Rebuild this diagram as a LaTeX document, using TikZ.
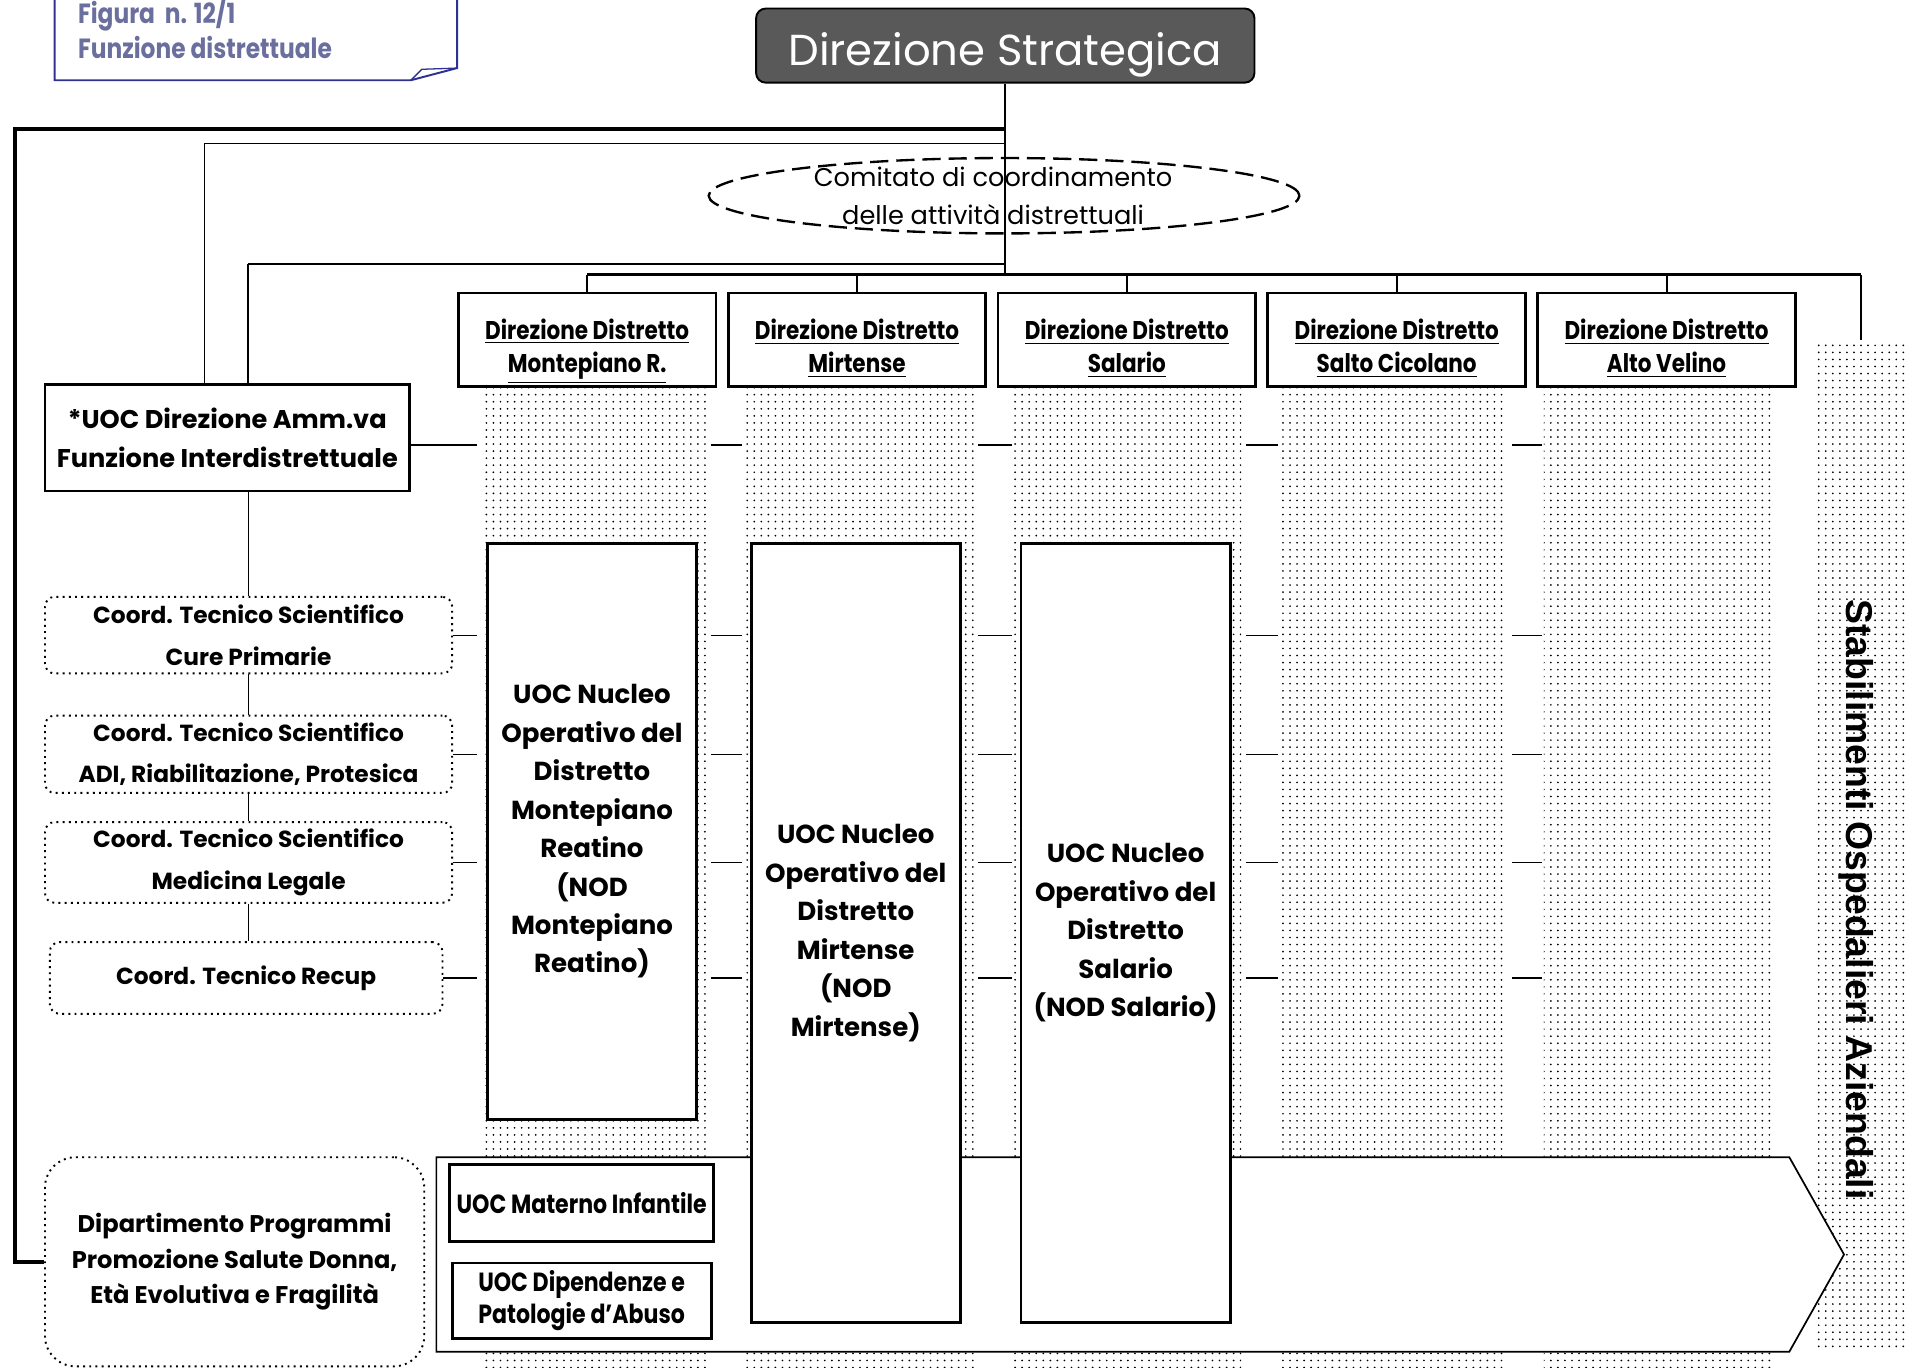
\documentclass[tikz,border=0pt]{standalone}
\usepackage{fontspec}
\setmainfont{Poppins}
\newfontfamily\twcen[FakeStretch=0.84]{Poppins}
\newfontfamily\arialfont{Liberation Sans}
\usetikzlibrary{positioning,shapes.geometric,patterns.meta}

\definecolor{dsgray}{HTML}{595959}
\definecolor{notebl}{HTML}{2E3192}
\definecolor{notetx}{HTML}{6B6F9E}

\newcommand{\distlines}[2]{\rule{0pt}{20.5pt}\underline{#1}\\\underline{#2}\rule[-5pt]{0pt}{5pt}}

\tikzstyle{boss} = [rectangle, rounded corners=1.6mm, draw=black, line width=0.9pt, fill=dsgray, text=white, minimum width=82mm, minimum height=12.2mm, text height=19pt, text depth=0pt, font=\fontsize{20.3}{22}\selectfont]
\tikzstyle{comitato} = [ellipse, draw, dash pattern=on 3mm off 1.3mm, line width=1.1pt, minimum width=97.2mm, minimum height=12.4mm, inner sep=0pt]
\tikzstyle{dist} = [rectangle, draw, line width=1.3pt, fill=white, minimum width=42.4mm, minimum height=15.4mm, inner ysep=0pt, align=center, font=\twcen\bfseries\fontsize{12}{15.4}\selectfont]
\tikzstyle{col} = [rectangle, inner sep=0pt, pattern={Dots[distance=3.3pt, radius=0.45pt]}, pattern color=black, minimum height=161.4mm]
\tikzstyle{amm} = [rectangle, draw, line width=1.3pt, fill=white, minimum width=60mm, minimum height=17.6mm, align=center, font=\bfseries\fontsize{12}{18.2}\selectfont]
\tikzstyle{coord} = [rectangle, rounded corners=1.6mm, draw, dotted, line width=0.9pt, fill=white, minimum width=67mm, minimum height=12.6mm, align=center, font=\bfseries\fontsize{10.9}{19.4}\selectfont]
\tikzstyle{nod} = [rectangle, draw, line width=1.3pt, fill=white, minimum width=34.4mm, align=center, font=\bfseries\fontsize{12.2}{18}\selectfont]
\tikzstyle{unit} = [rectangle, draw, line width=1.3pt, fill=white, minimum width=42.6mm, minimum height=12.6mm, align=center, font=\twcen\bfseries\fontsize{12.3}{14.8}\selectfont]
\tikzstyle{dept} = [rectangle, rounded corners=5mm, draw, dotted, line width=0.9pt, minimum width=62.4mm, minimum height=34.4mm, align=center, font=\bfseries\fontsize{11.3}{16.5}\selectfont]
\tikzstyle{link} = [line width=0.6pt]

\begin{document}
\begin{tikzpicture}[x=0.2mm, y=-0.2mm, node distance=44.4mm]
        \useasboundingbox (0,0) rectangle (1568,1125);

        \draw [notebl, line width=0.9pt] (45,-5) -- (45,66) -- (338,66) -- (376,56) -- (376,-5);
        \draw [notebl, line width=0.6pt] (338,66) -- (347,57) -- (376,56);
        \node (fignote) [anchor=west, align=left, text=notetx, font=\twcen\bfseries\fontsize{13}{16}\selectfont] at (58,23) {Figura\ \ n. 12/1\\Funzione distrettuale};

        \node (ds) [boss] at (827,37.5) {Direzione Strategica};
        \node (comitato) [comitato] at (826,161) {};
        \node (comtxt) [align=center, font=\fontsize{12}{17.6}\selectfont] at (817,161) {Comitato di coordinamento\\delle attività distrettuali};

        \node (col1) [col, minimum width=36.8mm] at (489,721.5) {};
        \node (col2) [col, minimum width=37.8mm] at (706.5,721.5) {};
        \node (col3) [col, minimum width=37.4mm] at (927.5,721.5) {};
        \node (col4) [col, minimum width=37.4mm] at (1146.5,721.5) {};
        \node (col5) [col, minimum width=38mm] at (1365,721.5) {};
        \node (col6) [col, minimum width=14.8mm, minimum height=166.4mm] at (1531,696) {};
        \node (stab) [rotate=-90, font=\arialfont\bfseries\fontsize{17.5}{19}\selectfont] at (1527,740) {Stabilimenti Ospedalieri Aziendali};

        \node (dir1) [dist] at (483,279.5) {\distlines{Direzione Distretto}{Montepiano R.}};
        \node (dir2) [dist, right of=dir1] {\distlines{Direzione Distretto}{Mirtense}};
        \node (dir3) [dist, right of=dir2] {\distlines{Direzione Distretto}{Salario}};
        \node (dir4) [dist, right of=dir3] {\distlines{Direzione Distretto}{Salto Cicolano}};
        \node (dir5) [dist, right of=dir4] {\distlines{Direzione Distretto}{Alto Velino}};

        \node (amm) [amm] at (187,360) {*UOC Direzione Amm.va\\Funzione Interdistrettuale};
        \node (cts1) [coord] at (204.5,522.5) {Coord. Tecnico Scientifico\\Cure Primarie};
        \node (cts2) [coord, minimum height=12.2mm] at (204.5,620.5) {Coord. Tecnico Scientifico\\ADI, Riabilitazione, Protesica};
        \node (cts3) [coord] at (204.5,709.5) {Coord. Tecnico Scientifico\\Medicina Legale};
        \node (recup) [coord, minimum width=64.6mm, minimum height=11.8mm] at (202.5,804.5) {Coord. Tecnico Recup};
        \node (dept) [dept] at (193,1038) {Dipartimento Programmi\\Promozione Salute Donna,\\Età Evolutiva e Fragilità};

        \coordinate (spine) at (12,106);
        \coordinate (thinrow) at (168,118);
        \coordinate (midrow) at (204,217);
        \coordinate (bus) at (828,226);
        \coordinate (r0) at (0,366);

        \draw [line width=1.9pt] (ds.south |- spine) -- (spine) |- (dept.west);
        \draw [link] (ds.south |- thinrow) -- (thinrow) -- (thinrow |- amm.north);
        \draw [line width=1.2pt] (ds.south |- midrow) -- (midrow);
        \draw [link] (midrow) -- (midrow |- amm.north);
        \draw [line width=0.8pt] (ds.south) -- (ds.south |- bus);
        \draw [line width=1.2pt] (dir1.north |- bus) -- (col6.north |- bus);
        \foreach \d in {dir1,dir2,dir3,dir4,dir5,col6}
            \draw [line width=0.9pt] (\d.north |- bus) -- (\d.north);

        \draw [link] (cts1.north |- amm.south) -- (cts1.north) (cts1.south) -- (cts2.north) (cts2.south) -- (cts3.north) (cts3.south) -- (cts3.south |- recup.north);
        \draw [link] (amm.east |- r0) -- ([xshift=-0.8mm]col1.west |- r0);
        \foreach \c in {cts1,cts2,cts3,recup}
            \draw [link] (\c.east) -- ([xshift=-0.8mm]col1.west |- \c.east);
        \foreach \a/\b in {col1/col2,col2/col3,col3/col4,col4/col5}
            \foreach \r in {r0,cts1.east,cts2.east,cts3.east,recup.east}
                \draw [link] ([xshift=0.7mm]\a.east |- \r) -- ([xshift=-0.3mm]\b.west |- \r);

        \draw [line width=0.8pt, fill=white] (359,952) -- (1472,952) -- (1517,1032) -- (1472,1112) -- (359,1112) -- cycle;

        \node (nod1) [nod, minimum height=94.8mm] at (487,684) {UOC Nucleo\\Operativo del\\Distretto\\Montepiano\\Reatino\\(NOD\\Montepiano\\Reatino)};
        \node (nod2) [nod, minimum height=128.2mm] at (704,767.5) {UOC Nucleo\\Operativo del\\Distretto\\Mirtense\\(NOD\\Mirtense)};
        \node (nod3) [nod, minimum height=128.2mm] at (926,767.5) {UOC Nucleo\\Operativo del\\Distretto\\Salario\\(NOD Salario)};

        \node (mat) [unit] at (478.5,989.5) {UOC Materno Infantile};
        \node (dip) [unit, minimum height=12.4mm] at (478.5,1070) {UOC Dipendenze e\\Patologie d’Abuso};
\end{tikzpicture}
\end{document}
